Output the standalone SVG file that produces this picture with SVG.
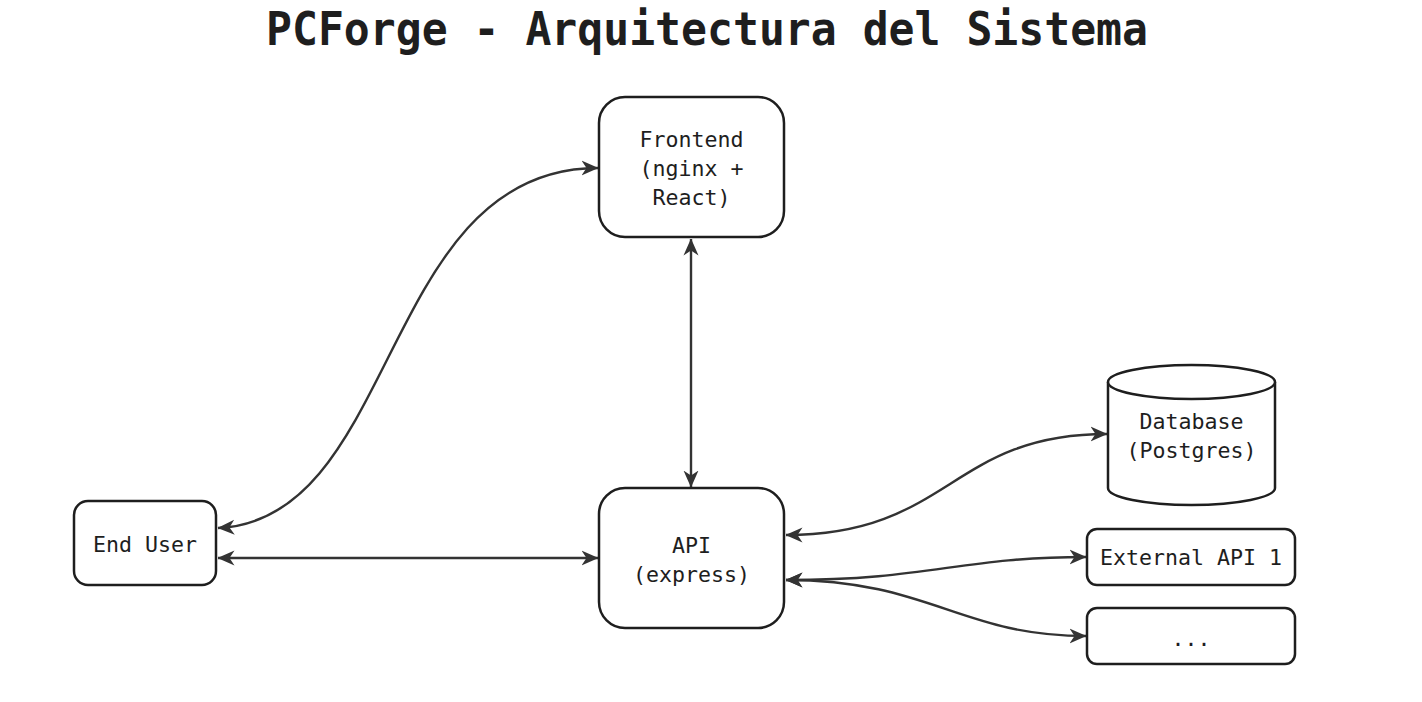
<svg xmlns="http://www.w3.org/2000/svg" width="1422" height="702" viewBox="0 0 1422 702">
<style>
.node{fill:#fff;stroke:#1e1e1e;stroke-width:2.5}
.lbl{font-family:"DejaVu Sans Mono","Liberation Mono",monospace;font-size:21.6px;fill:#1e1e1e;text-anchor:middle;dominant-baseline:central}
.title{font-family:"DejaVu Sans Mono","Liberation Mono",monospace;font-size:46px;font-weight:bold;fill:#1e1e1e;text-anchor:middle}
.edge{fill:none;stroke:#333;stroke-width:2.4;marker-start:url(#ah);marker-end:url(#ah)}
</style>
<defs>
<marker id="ah" viewBox="0 0 17 16" refX="16.5" refY="8" markerWidth="17" markerHeight="16" markerUnits="userSpaceOnUse" orient="auto-start-reverse">
<path d="M0,0.5 L17,8 L0,15.5 L5,8 Z" fill="#333"/>
</marker>
</defs>
<rect width="1422" height="702" fill="#fff"/>
<text class="title" x="707" y="45" textLength="882" lengthAdjust="spacingAndGlyphs">PCForge - Arquitectura del Sistema</text>
<g id="connectors">
<path class="edge" d="M218,528 C400,520 380,168 598,168"/>
<path class="edge" d="M218,558 L598,558"/>
<path class="edge" d="M691,239 L691,487"/>
<path class="edge" d="M786,535 C950,535 950,434 1107,434"/>
<path class="edge" d="M786,580 C930,580 960,557 1086,557"/>
<path class="edge" d="M786,580 C930,580 960,636 1086,636"/>
</g>
<g id="frontend">
<rect class="node" x="599" y="97" width="185" height="140" rx="26"/>
<text class="lbl" x="691.5" y="139">Frontend</text>
<text class="lbl" x="691.5" y="168">(nginx +</text>
<text class="lbl" x="691.5" y="197">React)</text>
</g>
<g id="api">
<rect class="node" x="599" y="488" width="185" height="140" rx="26"/>
<text class="lbl" x="691.5" y="545">API</text>
<text class="lbl" x="691.5" y="574">(express)</text>
</g>
<g id="enduser">
<rect class="node" x="74" y="501" width="142" height="84" rx="14"/>
<text class="lbl" x="145" y="544">End User</text>
</g>
<g id="database">
<path class="node" d="M1108,382 L1108,488 A83.5,17 0 0 0 1275,488 L1275,382"/>
<ellipse class="node" cx="1191.5" cy="382" rx="83.5" ry="17"/>
<text class="lbl" x="1191.5" y="421">Database</text>
<text class="lbl" x="1191.5" y="450">(Postgres)</text>
</g>
<g id="external1">
<rect class="node" x="1087" y="529" width="208" height="56" rx="10"/>
<text class="lbl" x="1191" y="557">External API 1</text>
</g>
<g id="more">
<rect class="node" x="1087" y="608" width="208" height="56" rx="10"/>
<text class="lbl" x="1191" y="638">...</text>
</g>
</svg>
